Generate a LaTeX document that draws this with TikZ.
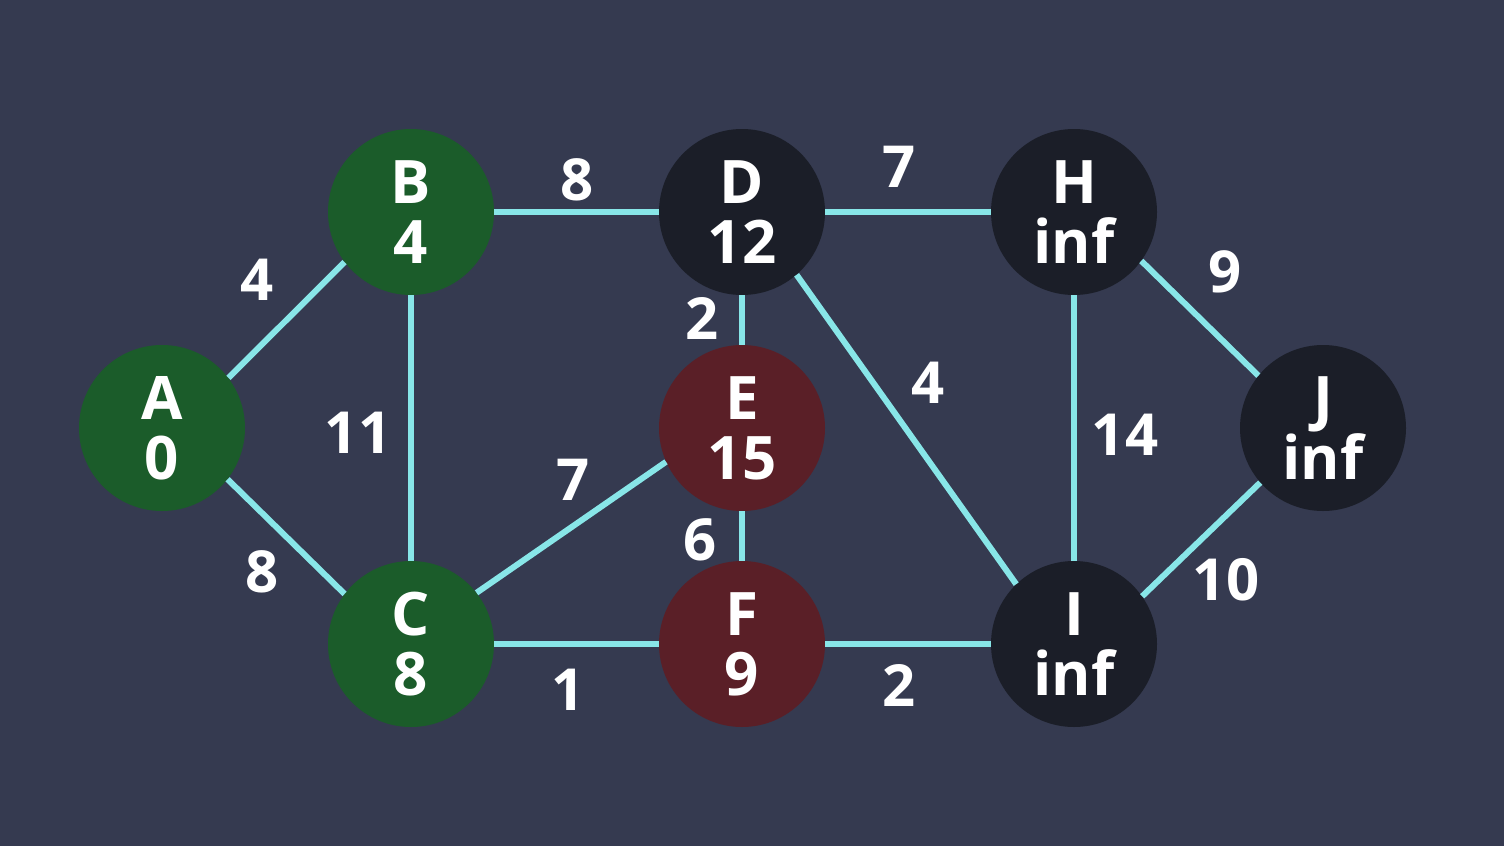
\documentclass[tikz,border=0pt]{standalone}
\usepackage{fontspec}
\setmainfont{Open Sans}
\definecolor{bgc}{HTML}{353A50}
\definecolor{grn}{HTML}{1B5C2A}
\definecolor{rd}{HTML}{5A1F27}
\definecolor{dk}{HTML}{1B1E28}
\definecolor{edg}{HTML}{88E6E8}
\tikzset{
  vert/.style={circle, minimum size=166pt, inner sep=0pt, text=white, align=center,
    font=\fontsize{60}{60}\selectfont\bfseries},
  gnode/.style={vert, fill=grn},
  rnode/.style={vert, fill=rd},
  dnode/.style={vert, fill=dk},
  wlab/.style={text=white, inner sep=0pt, font=\fontsize{58}{58}\selectfont\bfseries},
  edge/.style={draw=edg, line width=6pt}
}
\begin{document}
\begin{tikzpicture}[x=1pt,y=-1pt]
\fill[bgc] (0,0) rectangle (1504,846);
\useasboundingbox (0,0) rectangle (1504,846);
\node[gnode] (A) at (162,428) {A\\0};
\node[gnode] (B) at (411,212) {B\\4};
\node[gnode] (C) at (411,644) {C\\8};
\node[dnode] (D) at (742,212) {D\\12};
\node[rnode] (E) at (742,428) {E\\15};
\node[rnode] (F) at (742,644) {F\\9};
\node[dnode] (H) at (1074,212) {H\\inf};
\node[dnode] (I) at (1074,644) {I\\inf};
\node[dnode] (J) at (1323,428) {J\\inf};
\draw[edge] (A.37) -- (B.217);
\draw[edge] (A.-38) -- (C.143);
\draw[edge] (B) -- (C);
\draw[edge] (B) -- (D);
\draw[edge] (C.38) -- (E.204);
\draw[edge] (C) -- (F);
\draw[edge] (D) -- (E);
\draw[edge] (E) -- (F);
\draw[edge] (D) -- (H);
\draw[edge] (D.-49) -- (I.134);
\draw[edge] (F) -- (I);
\draw[edge] (H) -- (I);
\draw[edge] (H.-36) -- (J.141);
\draw[edge] (I.35) -- (J.221);
\node[wlab] (lAB) at (257,280) {4};
\node[wlab] (lAC) at (262,572) {8};
\node[wlab] (lBC) at (358,433) {11};
\node[wlab] (lBD) at (577,180) {8};
\node[wlab] (lCE) at (573,480) {7};
\node[wlab] (lCF) at (568,690) {1};
\node[wlab] (lDE) at (702,318) {2};
\node[wlab] (lEF) at (700,540) {6};
\node[wlab] (lDH) at (899,167) {7};
\node[wlab] (lDI) at (928,383) {4};
\node[wlab] (lFI) at (899,685) {2};
\node[wlab] (lHI) at (1125,435) {14};
\node[wlab] (lHJ) at (1225,272) {9};
\node[wlab] (lIJ) at (1226,580) {10};
\end{tikzpicture}
\end{document}
